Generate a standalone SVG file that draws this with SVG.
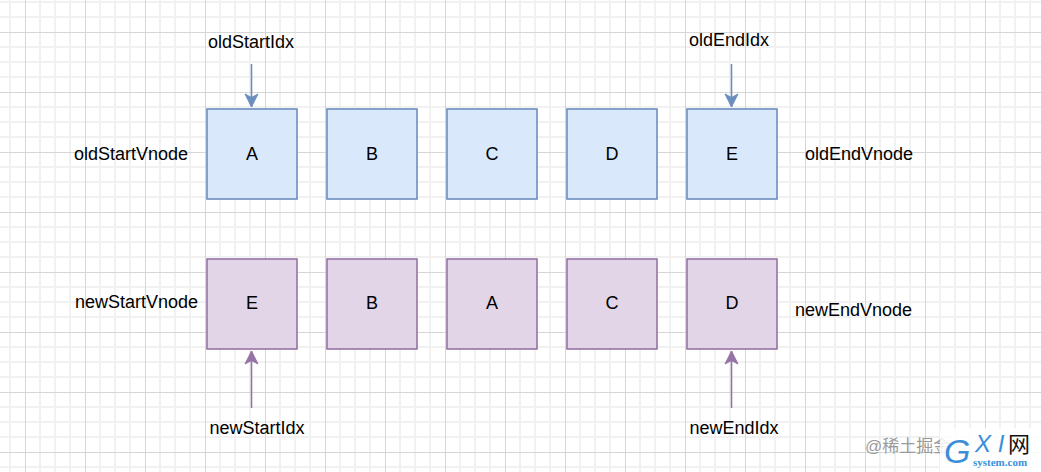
<svg xmlns="http://www.w3.org/2000/svg" width="1041" height="472" viewBox="0 0 1041 472">
<style>
.lbl{font-family:"Liberation Sans",Arial,sans-serif;font-size:18px;fill:#000}
.mid{text-anchor:middle}
.old rect{fill:#dae8fc;stroke:#6c8ebf;stroke-width:1.6}
.new rect{fill:#e1d5e7;stroke:#9673a6;stroke-width:1.6}
.cb{stroke:#6c8ebf;stroke-width:1.6;fill:none}
.cp{stroke:#9673a6;stroke-width:1.6;fill:none}
</style>
<defs>
<pattern id="grid" patternUnits="userSpaceOnUse" x="25" y="32" width="60" height="60">
<rect width="60" height="60" fill="#fff"/>
<path d="M15 0V60M30 0V60M45 0V60M0 15H60M0 30H60M0 45H60" stroke="#f1f1f1" stroke-width="2"/>
<path d="M0.5 0V60M0 0.5H60" stroke="#d6d6d6" stroke-width="1"/>
</pattern>
<marker id="ab" markerUnits="userSpaceOnUse" markerWidth="16" markerHeight="16" refX="14" refY="7" orient="auto" viewBox="0 0 16 14">
<path d="M14 7L1 0.5L4.5 7L1 13.5Z" fill="#6c8ebf" stroke="#6c8ebf" stroke-width="1"/>
</marker>
<marker id="ap" markerUnits="userSpaceOnUse" markerWidth="16" markerHeight="16" refX="14" refY="7" orient="auto" viewBox="0 0 16 14">
<path d="M14 7L1 0.5L4.5 7L1 13.5Z" fill="#9673a6" stroke="#9673a6" stroke-width="1"/>
</marker>
</defs>
<rect width="1041" height="472" fill="url(#grid)"/>

<g id="connectors">
<path class="cb" d="M251.5 64V107" marker-end="url(#ab)"/>
<path class="cb" d="M731.5 64V107" marker-end="url(#ab)"/>
<path class="cp" d="M251.5 408V351" marker-end="url(#ap)"/>
<path class="cp" d="M731.5 408V351" marker-end="url(#ap)"/>
</g>

<g id="old-A" class="old"><rect x="207" y="109" width="90" height="90"/><text class="lbl mid" x="252" y="160">A</text></g>
<g id="old-B" class="old"><rect x="327" y="109" width="90" height="90"/><text class="lbl mid" x="372" y="160">B</text></g>
<g id="old-C" class="old"><rect x="447" y="109" width="90" height="90"/><text class="lbl mid" x="492" y="160">C</text></g>
<g id="old-D" class="old"><rect x="567" y="109" width="90" height="90"/><text class="lbl mid" x="612" y="160">D</text></g>
<g id="old-E" class="old"><rect x="687" y="109" width="90" height="90"/><text class="lbl mid" x="732" y="160">E</text></g>

<g id="new-E" class="new"><rect x="207" y="259" width="90" height="90"/><text class="lbl mid" x="252" y="309">E</text></g>
<g id="new-B" class="new"><rect x="327" y="259" width="90" height="90"/><text class="lbl mid" x="372" y="309">B</text></g>
<g id="new-A" class="new"><rect x="447" y="259" width="90" height="90"/><text class="lbl mid" x="492" y="309">A</text></g>
<g id="new-C" class="new"><rect x="567" y="259" width="90" height="90"/><text class="lbl mid" x="612" y="309">C</text></g>
<g id="new-D" class="new"><rect x="687" y="259" width="90" height="90"/><text class="lbl mid" x="732" y="309">D</text></g>

<g id="oldStartIdx"><text class="lbl mid" x="251" y="48">oldStartIdx</text></g>
<g id="oldEndIdx"><text class="lbl mid" x="729" y="46">oldEndIdx</text></g>
<g id="oldStartVnode"><text class="lbl" x="74" y="160">oldStartVnode</text></g>
<g id="oldEndVnode"><text class="lbl" x="805" y="160">oldEndVnode</text></g>
<g id="newStartVnode"><text class="lbl" x="75" y="308">newStartVnode</text></g>
<g id="newEndVnode"><text class="lbl" x="795" y="316">newEndVnode</text></g>
<g id="newStartIdx"><text class="lbl mid" x="257" y="434">newStartIdx</text></g>
<g id="newEndIdx"><text class="lbl mid" x="734" y="434">newEndIdx</text></g>

<g id="watermark">
<text x="865" y="452" font-family="'Liberation Sans','Noto Sans CJK SC',sans-serif" font-size="17" fill="#9a9a9a">@稀土掘金</text>
<rect x="940" y="428" width="101" height="44" fill="#fff" opacity="0.85"/>
<text x="944" y="463" font-family="'Liberation Sans',sans-serif" font-size="34" font-style="italic" fill="#3b8fd8">G</text>
<text x="975" y="452" font-family="'Liberation Sans',sans-serif" font-size="24" font-style="italic" fill="#3b8fd8">X I</text>
<text x="1008" y="452" font-family="'Noto Sans CJK SC',sans-serif" font-size="22" fill="#111">网</text>
<text x="973" y="466" font-family="'Liberation Serif',serif" font-size="11" font-weight="bold" fill="#3b8fd8">system.com</text>
</g>
</svg>
